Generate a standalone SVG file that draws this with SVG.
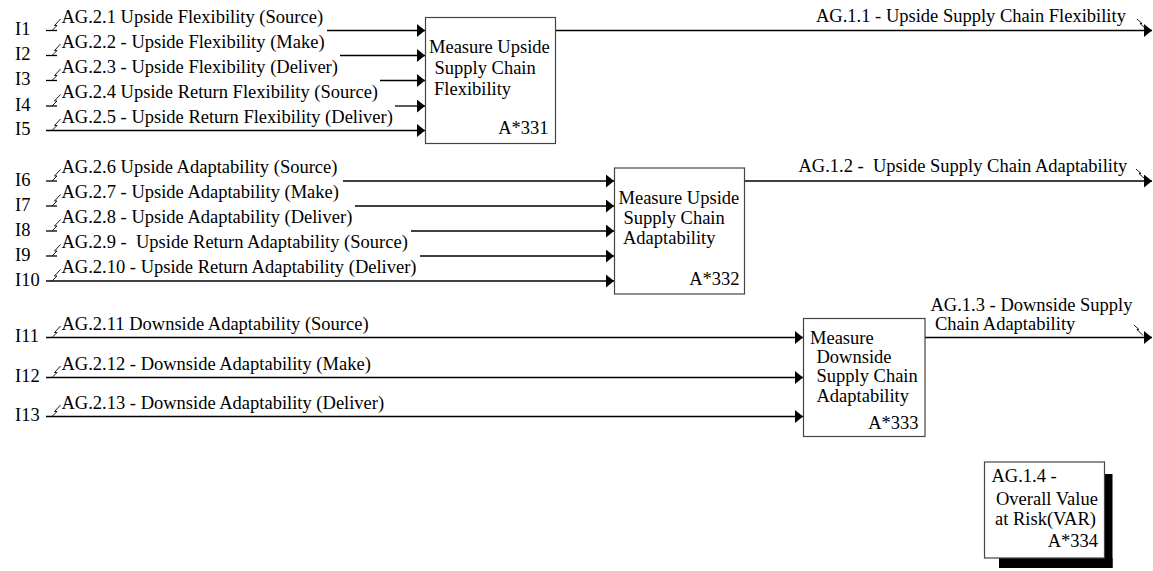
<svg xmlns="http://www.w3.org/2000/svg" width="1153" height="571" viewBox="0 0 1153 571">
<defs>
<marker id="arr" viewBox="0 0 8 13" refX="8" refY="6.5" markerWidth="8" markerHeight="13" markerUnits="userSpaceOnUse" orient="auto"><path d="M0,0 L8,6.5 L0,13 z" fill="#000"/></marker>
<style>
text{font-family:"Liberation Serif","Times New Roman",serif;font-size:18.5px;fill:#000;white-space:pre}
.box{fill:#fff;stroke:#444;stroke-width:1.2}
.ln{stroke:#000;stroke-width:1.3;fill:none}
.ar{stroke:#000;stroke-width:1.3;fill:none;marker-end:url(#arr)}
.sq{stroke:#000;stroke-width:0.9;fill:none}
.end{text-anchor:end}
</style>
</defs>
<rect width="1153" height="571" fill="#fff"/>

<g id="connectors">
<!-- group 1 inputs -->
<path class="ln" d="M46,30.5 H57"/><path class="ar" d="M327,30.5 H425"/>
<path class="ln" d="M46,55.5 H57"/><path class="ar" d="M340,55.5 H425"/>
<path class="ln" d="M46,80.5 H57"/><path class="ar" d="M380,80.5 H425"/>
<path class="ln" d="M46,106 H57"/><path class="ar" d="M395,106 H425"/>
<path class="ar" d="M46,130.5 H425"/>
<!-- group 2 inputs -->
<path class="ln" d="M46,181 H57"/><path class="ar" d="M343,181 H614"/>
<path class="ln" d="M46,206 H57"/><path class="ar" d="M355,206 H614"/>
<path class="ln" d="M46,231 H57"/><path class="ar" d="M411,231 H614"/>
<path class="ln" d="M46,256 H57"/><path class="ar" d="M420,256 H614"/>
<path class="ar" d="M46,281 H614"/>
<!-- group 3 inputs -->
<path class="ar" d="M46,337.5 H803"/>
<path class="ar" d="M46,377.5 H803"/>
<path class="ar" d="M46,416.5 H803"/>
<!-- outputs -->
<path class="ar" d="M556,30.5 H1152"/>
<path class="ar" d="M745,181 H1152"/>
<path class="ar" d="M925,337.5 H1152"/>
<!-- squiggles -->
<g id="squiggles">
<path class="sq" d="M52,30.5 l5,-5 h-2.5 l6,-6.5"/>
<path class="sq" d="M52,55.5 l5,-5 h-2.5 l6,-6.5"/>
<path class="sq" d="M52,80.5 l5,-5 h-2.5 l6,-6.5"/>
<path class="sq" d="M52,106 l5,-5 h-2.5 l6,-6.5"/>
<path class="sq" d="M52,130.5 l5,-5 h-2.5 l6,-6.5"/>
<path class="sq" d="M52,181 l5,-5 h-2.5 l6,-6.5"/>
<path class="sq" d="M52,206 l5,-5 h-2.5 l6,-6.5"/>
<path class="sq" d="M52,231 l5,-5 h-2.5 l6,-6.5"/>
<path class="sq" d="M52,256 l5,-5 h-2.5 l6,-6.5"/>
<path class="sq" d="M52,281 l5,-5 h-2.5 l6,-6.5"/>
<path class="sq" d="M52,337.5 l5,-5 h-2.5 l6,-6.5"/>
<path class="sq" d="M52,377.5 l5,-5 h-2.5 l6,-6.5"/>
<path class="sq" d="M52,416.5 l5,-5 h-2.5 l6,-6.5"/>
<path class="sq" d="M1137,19 l5,4.5 h-2 l6,5.5"/>
<path class="sq" d="M1136,169 l5,4.5 h-2 l6,5.5"/>
<path class="sq" d="M1134,325 l5,4.5 h-2 l6,6"/>
</g>
</g>

<g id="labels">
<text x="15" y="35">I1</text>
<text x="15" y="60">I2</text>
<text x="15" y="85">I3</text>
<text x="15" y="110.5">I4</text>
<text x="15" y="135">I5</text>
<text x="15" y="185.5">I6</text>
<text x="15" y="210.5">I7</text>
<text x="15" y="235.5">I8</text>
<text x="15" y="260.5">I9</text>
<text x="15" y="285.5">I10</text>
<text x="15" y="342">I11</text>
<text x="15" y="382">I12</text>
<text x="15" y="421">I13</text>

<text x="61.5" y="22.5">AG.2.1 Upside Flexibility (Source)</text>
<text x="61.5" y="47.5">AG.2.2 - Upside Flexibility (Make)</text>
<text x="61.5" y="72.5">AG.2.3 - Upside Flexibility (Deliver)</text>
<text x="61.5" y="98">AG.2.4 Upside Return Flexibility (Source)</text>
<text x="61.5" y="122.5">AG.2.5 - Upside Return Flexibility (Deliver)</text>

<text x="61.5" y="173">AG.2.6 Upside Adaptability (Source)</text>
<text x="61.5" y="198">AG.2.7 - Upside Adaptability (Make)</text>
<text x="61.5" y="223">AG.2.8 - Upside Adaptability (Deliver)</text>
<text x="61.5" y="248">AG.2.9 -  Upside Return Adaptability (Source)</text>
<text x="61.5" y="273">AG.2.10 - Upside Return Adaptability (Deliver)</text>

<text x="61.5" y="329.5">AG.2.11 Downside Adaptability (Source)</text>
<text x="61.5" y="369.5">AG.2.12 - Downside Adaptability (Make)</text>
<text x="61.5" y="408.5">AG.2.13 - Downside Adaptability (Deliver)</text>

<text x="816" y="22">AG.1.1 - Upside Supply Chain Flexibility</text>
<text x="798.5" y="172">AG.1.2 -  Upside Supply Chain Adaptability</text>
<text x="930.5" y="310.5">AG.1.3 - Downside Supply</text>
<text x="935" y="330">Chain Adaptability</text>
</g>

<g id="A331">
<rect class="box" x="425.5" y="17.5" width="130" height="126"/>
<text x="429" y="53">Measure Upside</text>
<text x="434.5" y="74">Supply Chain</text>
<text x="434" y="94.5">Flexibility</text>
<text class="end" x="548.5" y="134">A*331</text>
</g>

<g id="A332">
<rect class="box" x="614.5" y="168" width="130" height="126"/>
<text x="618.5" y="203.5">Measure Upside</text>
<text x="623.5" y="224">Supply Chain</text>
<text x="623" y="244">Adaptability</text>
<text class="end" x="739.5" y="285">A*332</text>
</g>

<g id="A333">
<rect class="box" x="803.5" y="318.5" width="121.5" height="118"/>
<text x="810" y="343.5">Measure</text>
<text x="816.5" y="363">Downside</text>
<text x="816.5" y="382">Supply Chain</text>
<text x="816.5" y="401.5">Adaptability</text>
<text class="end" x="918.5" y="428.5">A*333</text>
</g>

<g id="A334">
<rect x="999" y="558" width="113.5" height="10" fill="#000"/>
<rect x="1104" y="474" width="8.5" height="94" fill="#000"/>
<rect class="box" x="984.5" y="462" width="120" height="96"/>
<text x="991.5" y="482">AG.1.4 -</text>
<text x="996" y="505">Overall Value</text>
<text x="995" y="525">at Risk(VAR)</text>
<text class="end" x="1098" y="547">A*334</text>
</g>
</svg>
